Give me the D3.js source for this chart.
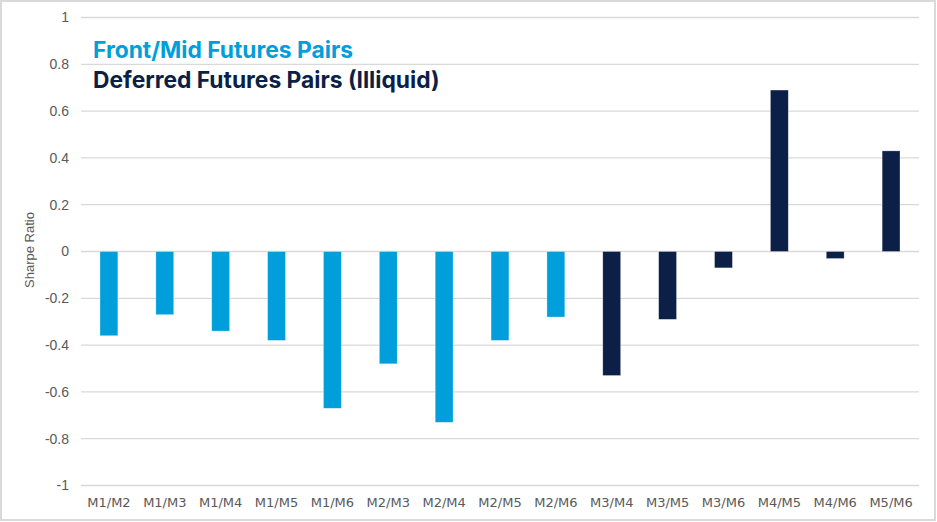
<!DOCTYPE html>
<html>
<head>
<meta charset="utf-8">
<script src="https://cdn.jsdelivr.net/npm/d3@7"></script>
<style>
  body, html { margin:0; padding:0; background:#fff; }
  #chart { position:absolute; left:0; top:0; }
</style>
</head>
<body>
<svg id="chart" width="937" height="522"></svg>
<script>
// pairs on the x axis
var categories = ["M1/M2","M1/M3","M1/M4","M1/M5","M1/M6","M2/M3","M2/M4","M2/M5","M2/M6",
                  "M3/M4","M3/M5","M3/M6","M4/M5","M4/M6","M5/M6"];
// sharpe ratio for each pair
var sharpe = [-0.36,-0.27,-0.34,-0.38,-0.67,-0.48,-0.73,-0.38,-0.28,
              -0.53,-0.29,-0.07,0.69,-0.03,0.43];
// which group each pair is in
var groups = ["front","front","front","front","front","front","front","front","front",
              "deferred","deferred","deferred","deferred","deferred","deferred"];
var yTicks = [1,0.8,0.6,0.4,0.2,0,-0.2,-0.4,-0.6,-0.8,-1];
var legendLabels = ["Front/Mid Futures Pairs","Deferred Futures Pairs (Illiquid)"];

var colors = {front:"#009fdb", deferred:"#0b1f47"};

var svg = d3.select("#chart");

// outer frame
svg.append("rect")
   .attr("x",1).attr("y",1).attr("width",934).attr("height",519)
   .attr("fill","#fff").attr("stroke","#d9d9d9").attr("stroke-width",2);

var plotLeft = 81, plotRight = 919, plotTop = 17.5, plotBottom = 485.5;

var x = d3.scaleBand().domain(categories).range([plotLeft,plotRight]).paddingInner(0.68).paddingOuter(0.34);
var y = d3.scaleLinear().domain([-1,1]).range([plotBottom,plotTop]);

// gridlines
svg.append("g")
   .selectAll("line")
   .data(yTicks)
   .enter()
   .append("line")
   .attr("x1",plotLeft).attr("x2",plotRight)
   .attr("y1",function(d){return y(d)}).attr("y2",function(d){return y(d)})
   .attr("stroke","#d9d9d9").attr("stroke-width",1.3);

// y axis labels
var yAxis = d3.axisLeft(y).tickValues(yTicks).tickSize(0).tickPadding(0)
              .tickFormat(function(d){return String(d)});
var gy = svg.append("g").attr("transform","translate(69,0)").call(yAxis);
gy.select(".domain").remove();
gy.selectAll("text")
  .attr("fill","#595959")
  .style("font-family","'Liberation Sans', Arial, sans-serif")
  .style("font-size","14px");

// x axis labels
var xAxis = d3.axisBottom(x).tickSize(0).tickPadding(0);
var gx = svg.append("g").attr("transform","translate(0,498)").call(xAxis);
gx.select(".domain").remove();
gx.selectAll("text")
  .attr("fill","#595959")
  .style("font-family","'DejaVu Sans', sans-serif")
  .style("font-size","13px");

// axis title
svg.append("text")
   .attr("transform","translate(34,250) rotate(-90)")
   .attr("text-anchor","middle")
   .attr("fill","#595959")
   .style("font-family","'Liberation Sans', Arial, sans-serif")
   .style("font-size","13px")
   .text("Sharpe Ratio");

// bars
var data = categories.map(function(c,i){return {name:c, value:sharpe[i], group:groups[i]}});
svg.append("g")
   .selectAll("rect")
   .data(data)
   .enter()
   .append("rect")
   .attr("x",function(d){return x(d.name)})
   .attr("width",x.bandwidth())
   .attr("y",function(d){return Math.min(y(d.value),y(0))})
   .attr("height",function(d){return Math.abs(y(d.value)-y(0))})
   .attr("fill",function(d){return colors[d.group]})
   .attr("stroke","#ffffff").attr("stroke-opacity",0.5).attr("stroke-width",0.6);

// legend text
svg.selectAll(".legend")
   .data(legendLabels)
   .enter()
   .append("text")
   .attr("class","legend")
   .attr("x",93)
   .attr("y",function(d,i){return 58 + i*30})
   .attr("fill",function(d,i){return i==0 ? colors.front : colors.deferred})
   .style("font-family","Inter, 'Noto Sans', sans-serif")
   .style("font-weight","700")
   .style("font-size","22.8px")
   .text(function(d){return d});
</script>
</body>
</html>
